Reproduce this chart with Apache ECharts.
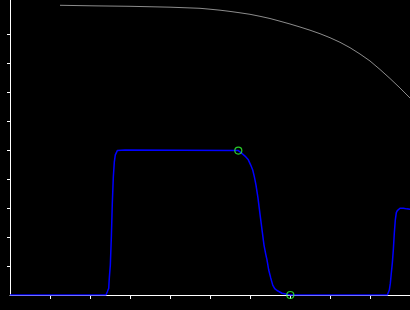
<!DOCTYPE html>
<html>
<head>
<meta charset="utf-8">
<script src="https://cdn.jsdelivr.net/npm/echarts@6/dist/echarts.min.js"></script>
<style>html,body{margin:0;padding:0;background:#000;}#c{width:410px;height:310px;}</style>
</head>
<body>
<div id="c"></div>
<script>
// Gray reference curve [x, y]
const grayCurve = [
  [1.25, 9.99], [2.125, 9.97], [3.0, 9.955], [4.0, 9.925], [4.75, 9.886],
  [5.0, 9.855], [5.25, 9.821], [5.5, 9.779], [5.75, 9.731], [6.0, 9.679],
  [6.25, 9.610], [6.5, 9.534], [6.75, 9.441], [7.0, 9.345], [7.25, 9.241],
  [7.5, 9.131], [7.75, 9.010], [8.0, 8.872], [8.25, 8.714], [8.5, 8.528],
  [8.75, 8.310], [9.0, 8.069], [9.25, 7.776], [9.5, 7.466], [9.75, 7.138],
  [10.0, 6.793]
];
// Blue response curve [x, y]
const blueCurve = [
  [0, 0], [2.4, 0], [2.433, 0.11], [2.468, 0.23], [2.483, 0.59], [2.508, 1.03],
  [2.533, 1.97], [2.558, 3.17], [2.583, 4.07], [2.608, 4.59], [2.633, 4.83],
  [2.683, 4.98], [2.875, 5.0], [5.708, 4.98], [5.79, 4.89], [5.875, 4.79],
  [5.958, 4.66], [6.018, 4.48], [6.068, 4.31], [6.108, 4.08], [6.15, 3.79],
  [6.2, 3.34], [6.25, 2.79], [6.308, 2.17], [6.35, 1.72], [6.393, 1.41],
  [6.425, 1.21], [6.468, 0.86], [6.518, 0.59], [6.568, 0.34], [6.618, 0.22],
  [6.675, 0.155], [6.725, 0.10], [6.8, 0.06], [6.918, 0.024], [7.008, 0],
  [9.433, 0], [9.458, 0.01], [9.483, 0.17], [9.508, 0.40], [9.533, 0.76],
  [9.558, 1.10], [9.583, 1.55], [9.608, 2.14], [9.633, 2.59], [9.658, 2.84],
  [9.683, 2.91], [9.708, 2.96], [9.75, 2.99], [9.833, 2.99], [9.918, 2.97],
  [10.0, 2.96]
];
// Highlighted points
const markerPoints = [[5.708, 4.98], [7.008, 0]];
// Tick positions
const xTicks = [1, 2, 3, 4, 5, 6, 7, 8, 9];
const yTicks = [1, 2, 3, 4, 5, 6, 7, 8, 9];

const chart = echarts.init(document.getElementById('c'));
chart.setOption({
  backgroundColor: '#000',
  animation: false,
  grid: { left: 10, right: 0, top: 0, bottom: 15, containLabel: false, outerBoundsMode: 'none' },
  xAxis: {
    type: 'value', min: 0, max: 10, interval: 1,
    axisLine: { lineStyle: { color: '#fff', width: 1 } },
    axisTick: { show: true, length: 4, customValues: xTicks, lineStyle: { color: '#fff', width: 1 } },
    axisLabel: { show: false },
    splitLine: { show: false }
  },
  yAxis: {
    type: 'value', min: 0, max: 10.1724, interval: 1,
    axisLine: { show: true, lineStyle: { color: '#fff', width: 1 } },
    axisTick: { show: true, length: 3, customValues: yTicks, lineStyle: { color: '#fff', width: 1 } },
    axisLabel: { show: false },
    splitLine: { show: false }
  },
  series: [
    {
      type: 'line', data: grayCurve, showSymbol: false,
      lineStyle: { color: '#8c8c8c', width: 1 }
    },
    {
      type: 'line', data: blueCurve, showSymbol: false,
      lineStyle: { color: '#0000ff', width: 1.5 }
    },
    {
      type: 'scatter', data: markerPoints, symbol: 'circle', symbolSize: 7,
      itemStyle: { color: 'rgba(0,0,0,0)', borderColor: '#33ff33', borderWidth: 1.2 },
      z: 5
    }
  ]
});
</script>
</body>
</html>
